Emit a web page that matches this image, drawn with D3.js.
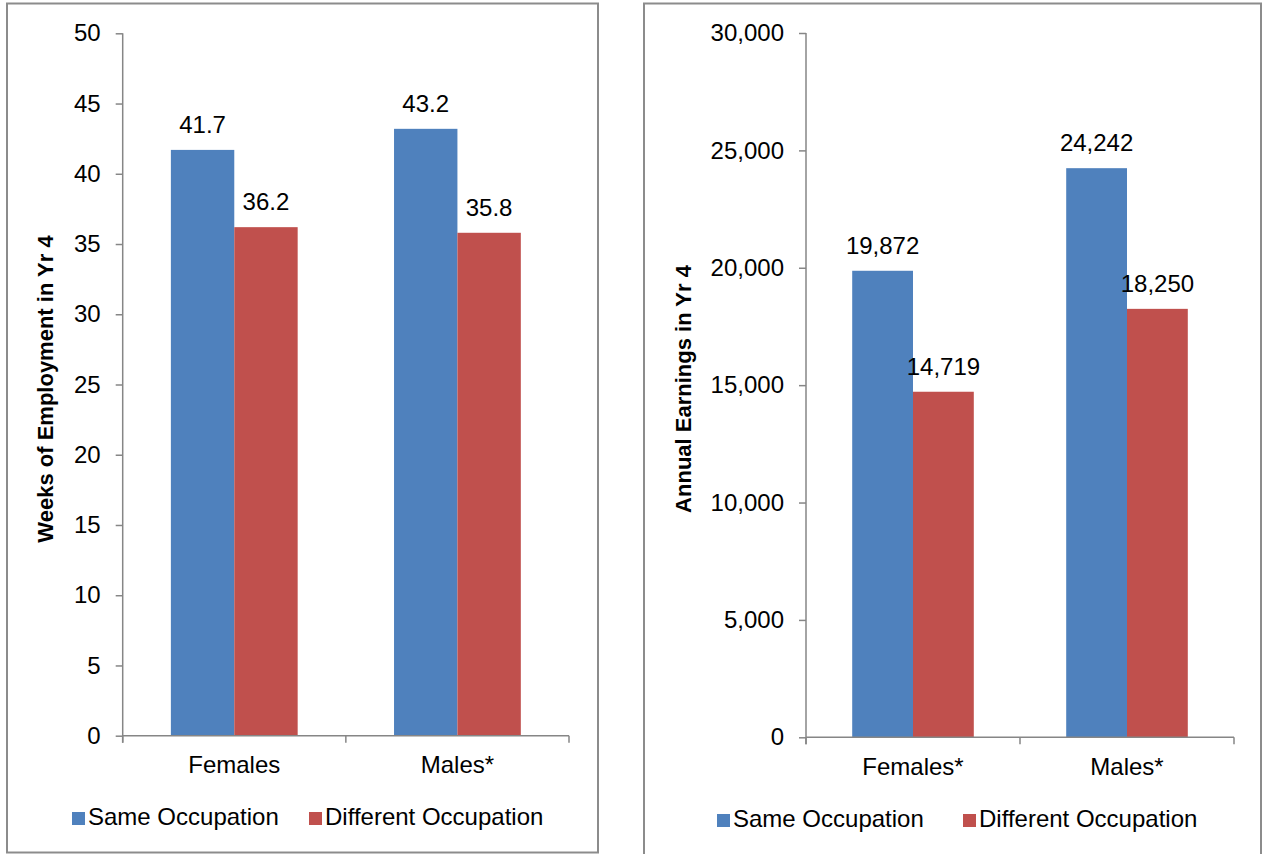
<!DOCTYPE html>
<html>
<head>
<meta charset="utf-8">
<script src="https://cdn.jsdelivr.net/npm/d3@7"></script>
<style>
  html, body { margin: 0; padding: 0; background: #fff; }
  svg { display: block; font-family: "Liberation Sans", Arial, sans-serif; }
</style>
</head>
<body>
<svg id="chart" width="1263" height="854"></svg>
<script>
// Series and category data
const seriesNames = ["Same Occupation", "Different Occupation"];
const seriesColors = ["#4F81BD", "#C0504D"];

const weeksCategories = ["Females", "Males*"];
const weeksSame = [41.7, 43.2];
const weeksDifferent = [36.2, 35.8];
const weeksTicks = [0, 5, 10, 15, 20, 25, 30, 35, 40, 45, 50];

const earningsCategories = ["Females*", "Males*"];
const earningsSame = [19872, 24242];
const earningsDifferent = [14719, 18250];
const earningsTicks = [0, 5000, 10000, 15000, 20000, 25000, 30000];

const svg = d3.select("#chart");
const axisColor = "#868686";
const fontSize = 24;

function drawPanel(opts) {
  const g = svg.append("g");

  // panel frame
  g.append("rect")
    .attr("x", opts.frame[0]).attr("y", opts.frame[1])
    .attr("width", opts.frame[2]).attr("height", opts.frame[3])
    .attr("fill", "#fff").attr("stroke", "#8c8c8c").attr("stroke-width", 2);

  const y = d3.scaleLinear().domain([0, opts.max]).range([opts.bottom, opts.top]);
  const x = d3.scaleBand().domain(opts.categories).range([opts.left, opts.right])
    .paddingInner(0).paddingOuter(0);
  const xs = d3.scaleBand().domain(seriesNames).range([0, x.bandwidth()])
    .paddingInner(0).paddingOuter(0.76);

  // y axis ticks and labels
  const yAxis = d3.axisLeft(y).tickValues(opts.ticks).tickSize(7).tickSizeOuter(0)
    .tickPadding(15).tickFormat(opts.tickFormat);
  const ya = g.append("g").attr("transform", `translate(${opts.left},0)`).call(yAxis);
  ya.select(".domain").remove();
  ya.selectAll(".tick line").attr("stroke", axisColor).attr("stroke-width", 1.5);
  ya.selectAll(".tick text").attr("font-size", fontSize).attr("fill", "#000")
    .attr("font-family", "Liberation Sans, Arial, sans-serif");

  // bars with value labels
  const rows = opts.categories.map((c, i) => ({cat: c, vals: [opts.same[i], opts.diff[i]]}));
  rows.forEach(r => {
    r.vals.forEach((v, j) => {
      const bx = x(r.cat) + xs(seriesNames[j]);
      g.append("rect")
        .attr("x", bx).attr("y", y(v))
        .attr("width", xs.bandwidth()).attr("height", y(0) - y(v))
        .attr("fill", seriesColors[j]);
      g.append("text")
        .attr("x", bx + xs.bandwidth() / 2).attr("y", y(v) - 17)
        .attr("text-anchor", "middle").attr("font-size", fontSize).attr("fill", "#000")
        .text(opts.labelFormat(v));
    });
  });

  // axis lines
  g.append("line").attr("x1", opts.left).attr("x2", opts.left)
    .attr("y1", opts.top).attr("y2", opts.bottom + 7)
    .attr("stroke", axisColor).attr("stroke-width", 1.5);
  g.append("line").attr("x1", opts.left).attr("x2", opts.right)
    .attr("y1", opts.bottom).attr("y2", opts.bottom)
    .attr("stroke", axisColor).attr("stroke-width", 1.5);
  const bounds = opts.categories.map(c => x(c)).concat([opts.right]);
  bounds.forEach(bx => {
    g.append("line").attr("x1", bx).attr("x2", bx)
      .attr("y1", opts.bottom).attr("y2", opts.bottom + 7)
      .attr("stroke", axisColor).attr("stroke-width", 1.5);
  });

  // category labels
  opts.categories.forEach(c => {
    g.append("text")
      .attr("x", x(c) + x.bandwidth() / 2).attr("y", opts.catY)
      .attr("text-anchor", "middle").attr("font-size", fontSize).attr("fill", "#000")
      .text(c);
  });

  // y axis title
  g.append("text")
    .attr("transform", `translate(${opts.titleX},${opts.titleY}) rotate(-90)`)
    .attr("text-anchor", "middle").attr("font-size", 22).attr("font-weight", "bold")
    .attr("fill", "#000").text(opts.title);

  // legend
  opts.legend.forEach((lx, j) => {
    g.append("rect").attr("x", lx).attr("y", opts.legendY - 13)
      .attr("width", 13).attr("height", 13).attr("fill", seriesColors[j]);
    g.append("text").attr("x", lx + 16).attr("y", opts.legendY)
      .attr("font-size", fontSize).attr("fill", "#000").text(seriesNames[j]);
  });
}

drawPanel({
  frame: [7, 3.5, 591, 849],
  top: 33.3, bottom: 735.7, left: 122.7, right: 569,
  max: 50, ticks: weeksTicks,
  tickFormat: d3.format("d"), labelFormat: d3.format(".1f"),
  categories: weeksCategories, same: weeksSame, diff: weeksDifferent,
  catY: 773, title: "Weeks of Employment in Yr 4", titleX: 53, titleY: 389,
  legend: [72, 309], legendY: 825
});

drawPanel({
  frame: [644, 3.5, 617, 860],
  top: 33, bottom: 737.3, left: 806, right: 1234,
  max: 30000, ticks: earningsTicks,
  tickFormat: d3.format(","), labelFormat: d3.format(","),
  categories: earningsCategories, same: earningsSame, diff: earningsDifferent,
  catY: 775, title: "Annual Earnings in Yr 4", titleX: 691, titleY: 389,
  legend: [717, 963], legendY: 827
});
</script>
</body>
</html>
